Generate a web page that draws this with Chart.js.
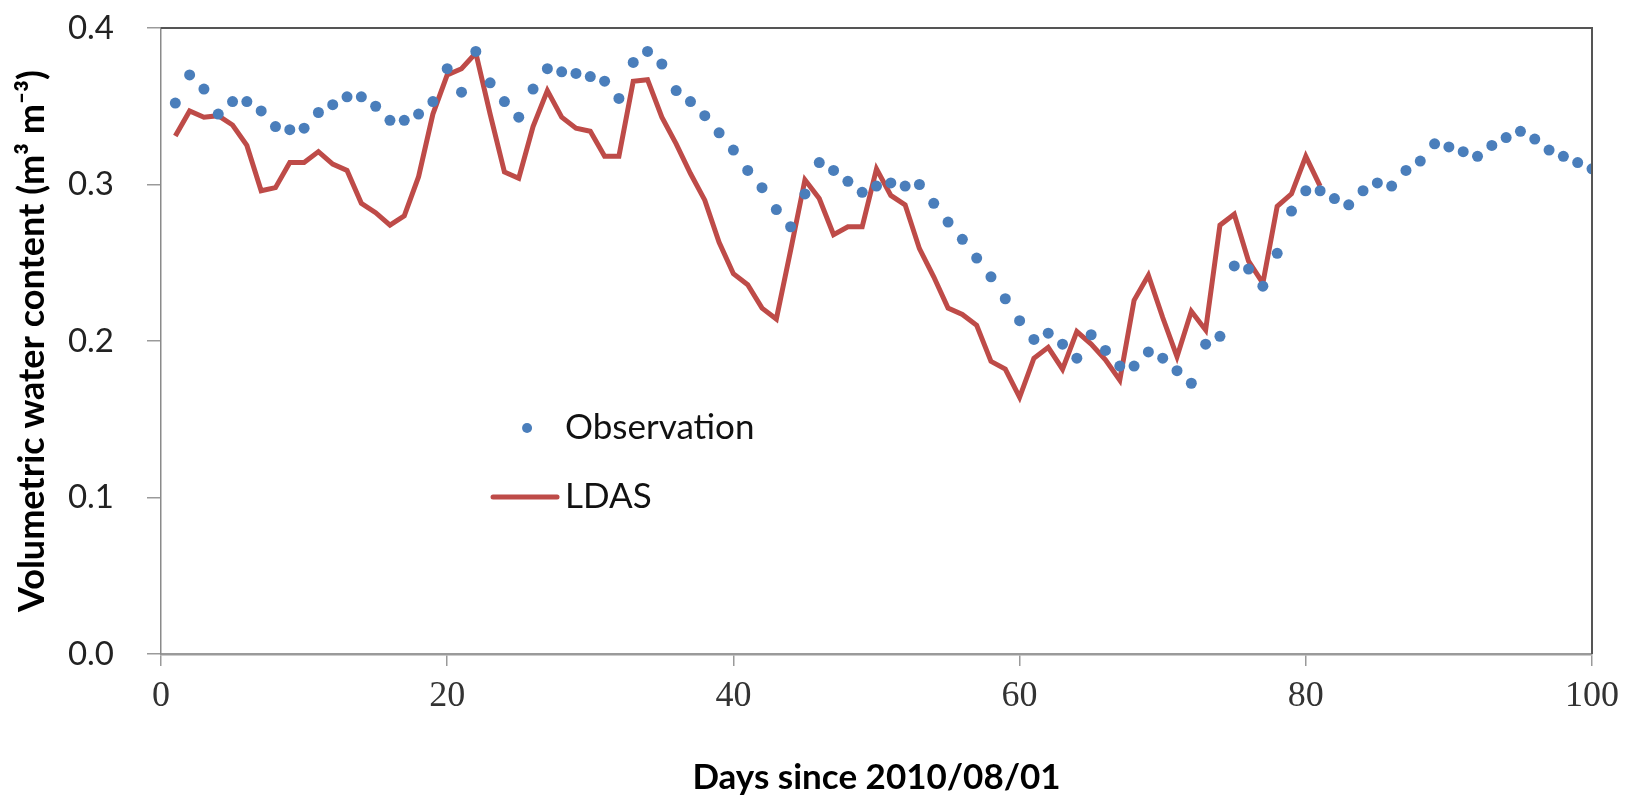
<!DOCTYPE html>
<html>
<head>
<meta charset="utf-8">
<script src="https://cdn.jsdelivr.net/npm/chart.js@4.4.1/dist/chart.umd.min.js"></script>
<style>
  html, body { margin: 0; padding: 0; background: #ffffff; }
  #wrap { width: 1626px; height: 795px; position: relative; }
</style>
</head>
<body>
<div id="wrap"><canvas id="c"></canvas></div>
<script>
// ---- data ----
const obsDays = [1,2,3,4,5,6,7,8,9,10,11,12,13,14,15,16,17,18,19,20,21,22,23,24,25,26,27,28,29,30,31,32,33,34,35,36,37,38,39,40,41,42,43,44,45,46,47,48,49,50,51,52,53,54,55,56,57,58,59,60,61,62,63,64,65,66,67,68,69,70,71,72,73,74,75,76,77,78,79,80,81,82,83,84,85,86,87,88,89,90,91,92,93,94,95,96,97,98,99,100];
const observation = [0.352,0.370,0.361,0.345,0.353,0.353,0.347,0.337,0.335,0.336,
  0.346,0.351,0.356,0.356,0.350,0.341,0.341,0.345,0.353,0.374,
  0.359,0.385,0.365,0.353,0.343,0.361,0.374,0.372,0.371,0.369,
  0.366,0.355,0.378,0.385,0.377,0.360,0.353,0.344,0.333,0.322,
  0.309,0.298,0.284,0.273,0.294,0.314,0.309,0.302,0.295,0.299,
  0.301,0.299,0.300,0.288,0.276,0.265,0.253,0.241,0.227,0.213,
  0.201,0.205,0.198,0.189,0.204,0.194,0.184,0.184,0.193,0.189,
  0.181,0.173,0.198,0.203,0.248,0.246,0.235,0.256,0.283,0.296,
  0.296,0.291,0.287,0.296,0.301,0.299,0.309,0.315,0.326,0.324,
  0.321,0.318,0.325,0.330,0.334,0.329,0.322,0.318,0.314,0.310];
const ldasDays = [1,2,3,4,5,6,7,8,9,10,11,12,13,14,15,16,17,18,19,20,21,22,23,24,25,26,27,28,29,30,31,32,33,34,35,36,37,38,39,40,41,42,43,44,45,46,47,48,49,50,51,52,53,54,55,56,57,58,59,60,61,62,63,64,65,66,67,68,69,70,71,72,73,74,75,76,77,78,79,80,81];
const ldas = [0.331,0.347,0.343,0.344,0.338,0.325,0.296,0.298,0.314,0.314,
  0.321,0.313,0.309,0.288,0.282,0.274,0.280,0.305,0.345,0.370,
  0.374,0.384,0.345,0.308,0.304,0.337,0.360,0.343,0.336,0.334,
  0.318,0.318,0.366,0.367,0.343,0.326,0.307,0.290,0.263,0.243,
  0.236,0.221,0.214,0.258,0.303,0.291,0.268,0.273,0.273,0.310,
  0.293,0.287,0.259,0.241,0.221,0.217,0.210,0.187,0.182,0.164,
  0.189,0.196,0.182,0.206,0.198,0.188,0.175,0.226,0.242,0.215,
  0.190,0.219,0.207,0.274,0.281,0.251,0.237,0.286,0.294,0.318,
  0.299];
const seriesNames = ['Observation', 'LDAS'];
const xTitle = 'Days since 2010/08/01';
const yTitle = 'Volumetric water content (m\u00B3 m\u207B\u00B3)';
const xTicks = [0, 20, 40, 60, 80, 100];
const yTicks = [0.0, 0.1, 0.2, 0.3, 0.4];

const obsPoints = obsDays.map((d, i) => ({x: d, y: observation[i]}));
const ldasPoints = ldasDays.map((d, i) => ({x: d, y: ldas[i]}));

const BLUE = '#4a7ebb';
const RED = '#be4b48';

// frame (top/right border)
const framePlugin = {
  id: 'frame',
  afterDraw(chart) {
    const {ctx, chartArea: a} = chart;
    ctx.save();
    ctx.strokeStyle = '#555555';
    ctx.lineWidth = 2;
    ctx.beginPath();
    ctx.moveTo(a.left, a.top);
    ctx.lineTo(a.right, a.top);
    ctx.lineTo(a.right, a.bottom);
    ctx.stroke();
    ctx.restore();
  }
};

// legend drawn inside the plot area
const legendPlugin = {
  id: 'innerLegend',
  afterDraw(chart, args, opts) {
    const {ctx, chartArea: a} = chart;
    const ds = chart.data.datasets;
    const x0 = a.left + opts.fx * (a.right - a.left);
    const y0 = a.top + opts.fy * (a.bottom - a.top);
    ctx.save();
    ctx.font = '35px Lato, "Open Sans", sans-serif';
    ctx.textBaseline = 'middle';
    ctx.textAlign = 'left';
    ctx.beginPath();
    ctx.fillStyle = ds[0].backgroundColor;
    ctx.arc(x0, y0, 5, 0, Math.PI * 2);
    ctx.fill();
    ctx.fillStyle = '#111111';
    ctx.fillText(ds[0].label, x0 + 38, y0);
    const y1 = y0 + opts.gap;
    ctx.strokeStyle = ds[1].borderColor;
    ctx.lineWidth = 5;
    ctx.lineCap = 'round';
    ctx.beginPath();
    ctx.moveTo(x0 - 34, y1);
    ctx.lineTo(x0 + 30, y1);
    ctx.stroke();
    ctx.fillText(ds[1].label, x0 + 38, y1);
    ctx.restore();
  }
};

new Chart(document.getElementById('c'), {
  type: 'scatter',
  data: {
    datasets: [
      {
        label: seriesNames[0],
        data: obsPoints,
        showLine: false,
        pointRadius: 5.5,
        pointHoverRadius: 5.5,
        pointBorderWidth: 0,
        backgroundColor: BLUE,
        borderColor: BLUE
      },
      {
        label: seriesNames[1],
        data: ldasPoints,
        showLine: true,
        tension: 0,
        borderColor: RED,
        backgroundColor: RED,
        borderWidth: 5,
        borderJoinStyle: 'miter',
        pointRadius: 0,
        pointHoverRadius: 0
      }
    ]
  },
  options: {
    responsive: true,
    maintainAspectRatio: false,
    animation: false,
    devicePixelRatio: 1,
    layout: { padding: { top: 28, right: 34, left: 0, bottom: 0 } },
    plugins: {
      legend: { display: false },
      tooltip: { enabled: false },
      innerLegend: { fx: 0.2558, fy: 0.639, gap: 69 }
    },
    scales: {
      x: {
        type: 'linear',
        min: 0,
        max: 100,
        afterFit(scale) {
          scale.height = 141;
          scale.paddingLeft = 0; scale.paddingRight = 0;
        },
        afterBuildTicks(scale) { scale.ticks = xTicks.map(v => ({value: v})); },
        ticks: {
          font: { family: '"Liberation Serif", "DejaVu Serif", serif', size: 36, lineHeight: 1 },
          color: '#333333',
          padding: 13,
          maxRotation: 0,
          callback: v => String(v)
        },
        grid: { drawOnChartArea: false, drawTicks: true, tickLength: 12, color: '#9a9a9a', lineWidth: 1.5 },
        border: { display: true, color: '#9a9a9a', width: 2.5 },
        title: {
          display: true,
          text: xTitle,
          font: { family: 'Lato, "Open Sans", sans-serif', size: 35, weight: 'bold', lineHeight: 1 },
          color: '#000000',
          padding: { top: 0, bottom: 0 }
        }
      },
      y: {
        type: 'linear',
        min: 0,
        max: 0.4,
        afterFit(scale) {
          scale.width = 161;
          scale.paddingTop = 0; scale.paddingBottom = 0;
        },
        afterBuildTicks(scale) { scale.ticks = yTicks.map(v => ({value: v})); },
        ticks: {
          font: { family: 'Lato, "Open Sans", sans-serif', size: 33, lineHeight: 1 },
          color: '#222222',
          padding: 33,
          callback: v => Number(v).toFixed(1)
        },
        grid: { drawOnChartArea: false, drawTicks: true, tickLength: 14, color: '#9a9a9a', lineWidth: 1.5 },
        border: { display: true, color: '#8a8a8a', width: 1.5 },
        title: {
          display: true,
          text: yTitle,
          font: { family: 'Lato, "Open Sans", sans-serif', size: 36, weight: 'bold', lineHeight: 1 },
          color: '#000000',
          padding: { top: 14, bottom: 0 }
        }
      }
    }
  },
  plugins: [framePlugin, legendPlugin]
});
</script>
</body>
</html>
